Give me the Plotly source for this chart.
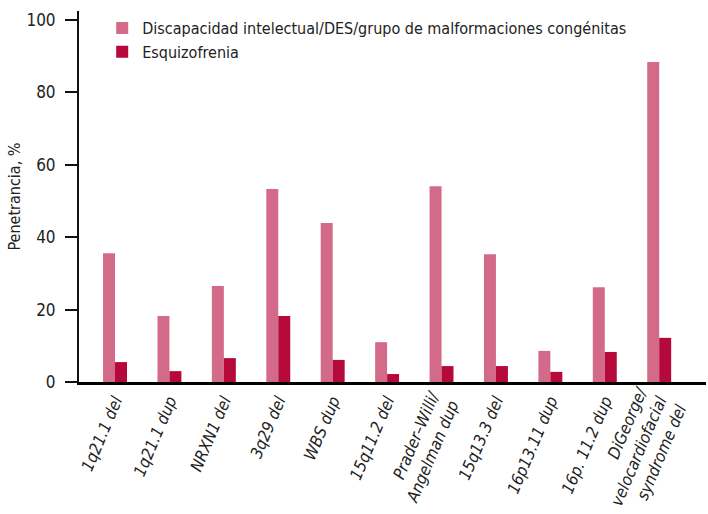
import plotly.graph_objects as go

categories = ["1q21.1 del", "1q21.1 dup", "NRXN1 del", "3q29 del", "WBS dup", "15q11.2 del",
              "Prader–Willi/<br>Angelman dup", "15q13.3 del", "16p13.11 dup", "16p. 11.2 dup",
              "DiGeorge/<br>velocardiofacial<br>syndrome del"]
tick_labels = ["<i>" + c.replace("<br>", "</i><br><i>") + "</i>" for c in categories]
discapacidad = [35.6, 18.2, 26.5, 53.3, 43.9, 11.0, 54.1, 35.3, 8.6, 26.2, 88.4]
esquizofrenia = [5.5, 3.0, 6.6, 18.2, 6.1, 2.2, 4.4, 4.4, 2.8, 8.3, 12.2]

FONT = "DejaVu Sans Condensed, sans-serif"

fig = go.Figure()
fig.add_trace(go.Bar(x=categories, y=discapacidad,
                     name="Discapacidad intelectual/DES/grupo de malformaciones congénitas",
                     marker=dict(color="#D46A8A", line=dict(width=0))))
fig.add_trace(go.Bar(x=categories, y=esquizofrenia, name="Esquizofrenia",
                     marker=dict(color="#B5093A", line=dict(width=0))))

fig.update_layout(
    width=708, height=514,
    margin=dict(l=79, r=2, t=11, b=132),
    paper_bgcolor="white", plot_bgcolor="white",
    barmode="group", bargap=0.56, bargroupgap=0,
    font=dict(family=FONT, size=16, color="#222"),
    showlegend=True,
    legend=dict(x=0.037, y=1.0, xanchor="left", yanchor="top",
                bgcolor="rgba(0,0,0,0)", font=dict(size=16), tracegroupgap=0,
                itemwidth=30),
    xaxis=dict(type="category", range=[-0.662, 10.86], tickvals=categories, ticktext=tick_labels,
               tickangle=-67, showline=True, linecolor="black", linewidth=2.5, automargin=False,
               showgrid=False, ticks="", tickfont=dict(size=16.5)),
    yaxis=dict(range=[0, 102.5], tickvals=[0, 20, 40, 60, 80, 100], showline=True,
               linecolor="#111", linewidth=2, ticks="outside", ticklen=12, tickwidth=1.5,
               tickcolor="#111", showgrid=False, zeroline=False, tickfont=dict(size=17),
               automargin=False, ticklabelstandoff=6,
               title=dict(text="Penetrancia, %", font=dict(size=16), standoff=2)),
)

fig.write_html("out.html", config={"displayModeBar": False},
               post_script="document.body.style.margin='0';")
